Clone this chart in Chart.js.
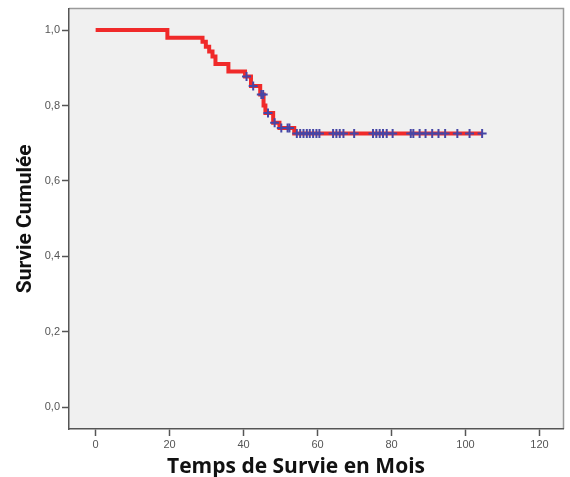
<!DOCTYPE html>
<html>
<head>
<meta charset="utf-8">
<script src="https://cdn.jsdelivr.net/npm/chart.js@4"></script>
<style>
  html, body { margin: 0; padding: 0; background: #fff; }
  #wrap { width: 570px; height: 477px; }
</style>
</head>
<body>
<div id="wrap"><canvas id="km"></canvas></div>
<script>
// Kaplan-Meier steps (time in months, survival after the step)
const eventTimes    = [0,   19.4, 28.9,  29.8,  30.7,  31.6, 32.4, 35.9, 40.4,  42.0,  44.5,  45.4, 45.9, 48.0,  49.7, 53.7]
const eventSurvival = [1.0, 0.98, 0.969, 0.956, 0.943, 0.93, 0.91, 0.89, 0.877, 0.852, 0.829, 0.80, 0.78, 0.754, 0.74, 0.726]
const lastFollowUp = 104.5

// censored cases (+)
const censorTimes = [40.8, 42.6, 44.8, 45.3, 46.6, 48.4, 50.2, 51.9, 52.4,
  54.4, 55.3, 56.2, 57.1, 57.9, 58.8, 59.7, 60.5,
  64.2, 65.1, 66.0, 67.0, 69.9,
  75.0, 75.9, 76.8, 77.7, 78.7, 80.3,
  85.2, 85.9, 87.6, 89.2, 91.0, 92.7, 94.5, 97.8, 101.1, 104.5]

const xTicks = [0, 20, 40, 60, 80, 100, 120]
const yTicks = [0, 0.2, 0.4, 0.6, 0.8, 1.0]
const xTitle = 'Temps de Survie en Mois'

function survivalAt(t) {
  let s = eventSurvival[0]
  for (let i = 0; i < eventTimes.length; i++) {
    if (eventTimes[i] <= t) s = eventSurvival[i]
  }
  return s
}

const curve = eventTimes.map((t, i) => ({ x: t, y: eventSurvival[i] }))
curve.push({ x: lastFollowUp, y: survivalAt(lastFollowUp) })
const censored = censorTimes.map(t => ({ x: t, y: survivalAt(t) }))

const plotFrame = {
  id: 'plotFrame',
  beforeDraw(chart) {
    const { ctx, chartArea: a } = chart
    ctx.save()
    ctx.fillStyle = '#f0f0f0'
    ctx.fillRect(a.left, a.top, a.right - a.left, a.bottom - a.top)
    ctx.strokeStyle = '#9a9a9a'
    ctx.lineWidth = 1.5
    ctx.beginPath()
    ctx.moveTo(a.left, a.top)
    ctx.lineTo(a.right, a.top)
    ctx.lineTo(a.right, a.bottom)
    ctx.stroke()
    ctx.restore()
  },
  // x title sits a bit left of the plot centre in the original
  afterDraw(chart) {
    const { ctx } = chart
    ctx.save()
    ctx.font = 'bold 21px "Open Sans", sans-serif'
    ctx.fillStyle = '#111'
    ctx.textAlign = 'center'
    ctx.textBaseline = 'middle'
    ctx.fillText(xTitle, 296, 467)
    ctx.restore()
  },
}

const tickFont = { family: 'Liberation Sans, Arial, sans-serif', size: 11 }

const kmConfig = {
  type: 'line',
  data: {
    datasets: [
      {
        label: 'Survie',
        data: curve,
        stepped: true,
        borderColor: '#f02a2a',
        borderWidth: 4,
        pointRadius: 0,
        fill: false,
        order: 2,
      },
      {
        label: 'Censuré',
        data: censored,
        showLine: false,
        pointStyle: 'cross',
        pointRadius: 4.5,
        borderColor: '#4646a6',
        pointBorderWidth: 2,
        order: 1,
      },
    ],
  },
  options: {
    responsive: true,
    maintainAspectRatio: false,
    animation: false,
    layout: { padding: { top: 6, right: 3, left: 0, bottom: 0 } },
    plugins: {
      legend: { display: false },
      tooltip: { enabled: false },
    },
    scales: {
      x: {
        type: 'linear',
        min: -7.2,
        max: 126.5,
        afterFit: (scale) => { scale.height = 48 },
        afterBuildTicks: (scale) => { scale.ticks = xTicks.map(v => ({ value: v })) },
        border: { color: '#555', width: 1.5 },
        grid: { drawOnChartArea: false, drawTicks: true, tickLength: 7, tickColor: '#555', tickWidth: 1.5 },
        ticks: { font: tickFont, color: '#555', padding: 2, maxRotation: 0 },
        title: { display: false },
      },
      y: {
        type: 'linear',
        min: -0.058,
        max: 1.057,
        afterFit: (scale) => { scale.width = 69 },
        afterBuildTicks: (scale) => { scale.ticks = yTicks.map(v => ({ value: v })) },
        border: { color: '#555', width: 1.5 },
        grid: { drawOnChartArea: false, drawTicks: true, tickLength: 7, tickColor: '#555', tickWidth: 1.5 },
        ticks: {
          font: tickFont,
          color: '#555',
          padding: 2,
          callback: (v) => v.toFixed(1).replace('.', ','),
        },
        title: {
          display: true,
          text: 'Survie Cumulée',
          color: '#111',
          font: { family: 'Liberation Sans Narrow, Roboto, sans-serif', size: 21, weight: 'bold', lineHeight: 1.1 },
          padding: { top: 14, bottom: 0 },
        },
      },
    },
  },
  plugins: [plotFrame],
}

const kmCanvas = document.getElementById('km')
window.kmChart = new Chart(kmCanvas, kmConfig)
</script>
</body>
</html>
